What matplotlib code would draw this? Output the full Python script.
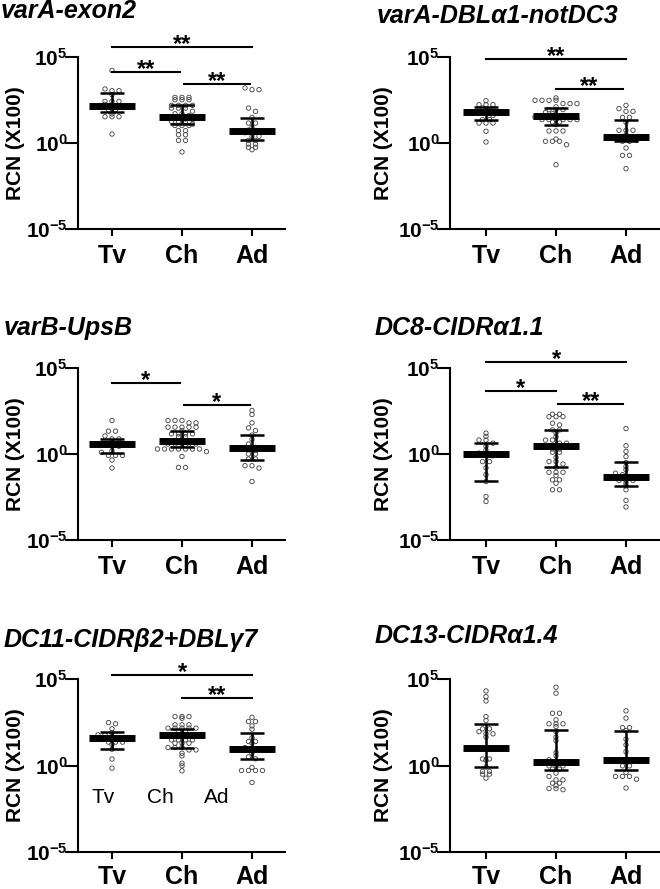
import matplotlib
matplotlib.use("Agg")
import matplotlib.pyplot as plt
import numpy as np
from matplotlib.ticker import FixedLocator, NullLocator

# ---------------- data (log10 of RCN x100) ----------------
groups = ["Tv", "Ch", "Ad"]
titles = [
    "varA-exon2",
    "varA-DBL\u03b11-notDC3",
    "varB-UpsB",
    "DC8-CIDR\u03b11.1",
    "DC11-CIDR\u03b22+DBL\u03b37",
    "DC13-CIDR\u03b11.4",
]

exon2_tv = [4.22, 3.14, 3.04, 3.04, 2.81, 2.42, 2.42, 2.42, 2.25, 2.17, 2.1, 1.94, 1.94, 1.69, 1.53, 1.53, 1.53, 0.52]
exon2_ch = [2.65, 2.65, 2.65, 2.52, 2.52, 2.52, 2.19, 2.19, 2.19, 2.19, 2.03, 2.03, 2.03, 1.85, 1.70, 1.70, 1.60,
            1.49, 1.49, 1.40, 1.35, 1.26, 1.26, 1.26, 1.10, 1.02, 1.02, 1.02, 0.72, 0.72, 0.48, 0.48, 0.15, 0.15, -0.52]
exon2_ad = [3.2, 3.1, 3.1, 2.03, 1.84, 1.49, 1.16, 1.16, 0.91, 0.75, 0.68, 0.60, 0.39, 0.39, 0.15, 0.15,
            -0.06, -0.06, -0.25, -0.25, -0.39]
exon2_med = [2.17, 1.49, 0.68]
exon2_q1 = [1.78, 1.10, 0.15]
exon2_q3 = [2.89, 2.19, 1.45]
exon2_sig = [(0, 2, 5.58, "**"), (0, 0.97, 4.13, "**"), (1.03, 1.97, 3.45, "**")]

dbla_tv = [2.46, 2.23, 2.23, 2.23, 2.03, 1.9, 1.78, 1.78, 1.6, 1.36, 1.36, 1.16, 1.16, 1.16, 0.68, 0.06]
dbla_ch = [2.62, 2.48, 2.48, 2.48, 2.48, 2.29, 2.29, 2.29, 2.1, 1.94, 1.94, 1.94, 1.78, 1.7, 1.59, 1.59, 1.5,
           1.36, 1.36, 1.36, 1.36, 1.36, 1.36, 1.22, 1.22, 1.07, 0.70, 0.70, 0.70, 0.23, 0.10, 0.10, 0.10, -0.10, -1.26]
dbla_ad = [2.19, 2.0, 1.84, 1.84, 1.49, 1.49, 1.2, 0.74, 0.74, 0.74, 0.48, 0.33, 0.29, 0.29, 0.15, 0.10, 0.10,
           -0.29, -0.72, -0.72, -1.49]
dbla_med = [1.78, 1.59, 0.33]
dbla_q1 = [1.32, 1.07, 0.12]
dbla_q3 = [2.07, 2.03, 1.31]
dbla_sig = [(0, 2, 4.88, "**"), (1, 1.95, 3.16, "**")]

upsb_tv = [1.95, 1.33, 1.33, 1.05, 0.88, 0.88, 0.7, 0.58, 0.58, 0.45, 0.19, 0.10, -0.08, -0.08, -0.08, -0.35, -0.82]
upsb_ch = [1.95, 1.95, 1.95, 1.81, 1.81, 1.56, 1.56, 1.56, 1.56, 1.56, 1.36, 1.17, 1.17, 1.17, 1.17, 1.01, 1.01,
           0.78, 0.78, 0.58, 0.58, 0.58, 0.58, 0.58, 0.29, 0.29, 0.29, 0.29, 0.29, 0.29, 0.29, 0.14, -0.14, -0.78, -0.78]
upsb_ad = [2.53, 2.30, 1.81, 1.52, 1.36, 1.1, 0.85, 0.58, 0.39, 0.35, 0.2, 0.0, 0.0, -0.29, -0.29, -0.68, -0.68,
           -0.82, -1.6]
upsb_med = [0.58, 0.78, 0.35]
upsb_q1 = [0.04, 0.39, -0.33]
upsb_q3 = [0.88, 1.36, 1.13]
upsb_sig = [(0, 0.97, 4.15, "*"), (1.03, 1.97, 2.83, "*")]

dc8_tv = [1.21, 1.02, 0.81, 0.81, 0.63, 0.45, 0.23, 0.05, 0.0, -0.1, -0.44, -0.44, -0.8, -1.2, -1.6, -2.47, -2.76]
dc8_ch = [2.31, 2.31, 2.17, 2.17, 2.17, 1.79, 1.69, 1.40, 1.40, 1.21, 1.0, 0.81, 0.81, 0.63, 0.63, 0.48, 0.48,
          0.29, 0.29, 0.10, 0.10, -0.2, -0.44, -0.44, -0.58, -0.77, -1.06, -1.06, -1.06, -1.25, -1.50, -1.50,
          -1.70, -2.08, -2.08]
dc8_ad = [1.48, 0.48, 0.15, -0.15, -0.5, -0.73, -0.91, -1.12, -1.2, -1.31, -1.31, -1.54, -1.54, -1.54, -1.7,
          -1.85, -2.08, -2.70, -3.08]
dc8_med = [0.0, 0.48, -1.31]
dc8_q1 = [-1.58, -0.77, -1.85]
dc8_q3 = [0.63, 1.39, -0.48]
dc8_sig = [(0, 2, 5.35, "*"), (0, 1, 3.66, "*"), (1.03, 1.96, 2.89, "**")]

dc11_tv = [2.48, 2.41, 2.12, 1.90, 1.77, 1.77, 1.65, 1.58, 1.58, 1.5, 1.35, 1.35, 1.35, 1.23, 0.94, 0.37, -0.15]
dc11_ch = [2.83, 2.83, 2.83, 2.73, 2.35, 2.35, 2.35, 2.16, 2.16, 2.16, 2.16, 2.16, 1.96, 1.96, 1.77, 1.67, 1.67,
           1.67, 1.48, 1.48, 1.48, 1.48, 1.29, 1.29, 1.29, 1.04, 1.04, 1.04, 0.90, 0.90, 0.71, 0.56, 0.13, -0.02, -0.31]
dc11_ad = [2.79, 2.54, 2.54, 2.29, 2.10, 1.6, 1.39, 1.39, 1.29, 1.04, 0.94, 0.94, 0.71, 0.5, 0.39, -0.11,
           -0.29, -0.29, -0.29, -0.29, -0.98]
dc11_med = [1.58, 1.77, 0.94]
dc11_q1 = [0.94, 1.04, 0.39]
dc11_q3 = [1.92, 2.12, 1.87]
dc11_sig = [(0, 2, 5.23, "*"), (1, 2, 3.89, "**")]
dc11_inner_x = [-0.13, 0.69, 1.5]   # stray group labels inside this panel
dc11_inner_y = -1.83

dc13_tv = [4.31, 3.98, 3.73, 2.83, 2.60, 2.12, 2.12, 1.96, 1.83, 1.83, 1.64, 1.04, 0.38, 0.38, 0.31, -0.09,
           -0.34, -0.34, -0.50, -0.50, -0.73]
dc13_ch = [4.52, 4.18, 3.02, 3.02, 2.64, 2.41, 2.41, 2.41, 2.25, 1.96, 1.64, 1.43, 0.75, 0.56, 0.33, 0.18, 0.18,
           -0.02, -0.02, -0.02, -0.21, -0.21, -0.44, -0.63, -0.83, -0.83, -1.02, -1.02, -1.17, -1.33, -1.33, -1.40]
dc13_ad = [3.16, 2.74, 2.19, 2.19, 2.02, 1.52, 1.19, 0.8, 0.29, 0.29, -0.02, -0.02, -0.40, -0.63, -0.63,
           -0.63, -0.79, -1.30]
dc13_med = [1.04, 0.18, 0.29]
dc13_q1 = [-0.09, -0.25, -0.25]
dc13_q3 = [2.41, 2.06, 2.02]
dc13_sig = []

ytick_vals = [1e-5, 1e0, 1e5]
ytick_labels = [r"$10^{-5}$", r"$10^{0}$", r"$10^{5}$"]

panels = [
    ([exon2_tv, exon2_ch, exon2_ad], exon2_med, exon2_q1, exon2_q3, exon2_sig),
    ([dbla_tv, dbla_ch, dbla_ad], dbla_med, dbla_q1, dbla_q3, dbla_sig),
    ([upsb_tv, upsb_ch, upsb_ad], upsb_med, upsb_q1, upsb_q3, upsb_sig),
    ([dc8_tv, dc8_ch, dc8_ad], dc8_med, dc8_q1, dc8_q3, dc8_sig),
    ([dc11_tv, dc11_ch, dc11_ad], dc11_med, dc11_q1, dc11_q3, dc11_sig),
    ([dc13_tv, dc13_ch, dc13_ad], dc13_med, dc13_q1, dc13_q3, dc13_sig),
]

# ---------------- style ----------------
plt.rcParams.update({
    "font.family": ["Liberation Sans", "DejaVu Sans"],
    "font.weight": "bold",
    "mathtext.fontset": "custom",
    "mathtext.rm": "Liberation Sans:bold",
    "mathtext.bf": "Liberation Sans:bold",
    "mathtext.it": "Liberation Sans:bold:italic",
    "axes.linewidth": 1.5,
})

W, H = 660, 889
fig = plt.figure(figsize=(W / 100, H / 100), dpi=100, facecolor="white")

# axes boxes in pixels
col_px = [(78, 285), (450, 659)]
row_px = [(57, 229), (368, 540), (679, 852)]
tv_px = [112, 486]            # pixel x of the Tv group per column
group_px = 70                 # pixel spacing between groups
title_pos = [(1, 18), (377, 23), (4, 335), (375, 335), (4, 647), (375, 643)]
xpad = [6, 6, 4.5]


def swarm(vals, binw=0.24, step=0.1):
    vals = np.asarray(vals)
    bins = np.round(vals / binw).astype(int)
    off = np.zeros(len(vals))
    for b in np.unique(bins):
        idx = np.where(bins == b)[0]
        n = len(idx)
        off[idx] = (np.arange(n) - (n - 1) / 2) * step
    return off


for k, (data, med, q1, q3, sig) in enumerate(panels):
    r, c = divmod(k, 2)
    x0, x1 = col_px[c]
    t, b = row_px[r]
    ax = fig.add_axes([x0 / W, 1 - b / H, (x1 - x0) / W, (b - t) / H])
    ax.set_yscale("log")

    for i, vals in enumerate(data):
        v = np.asarray(vals)
        ax.scatter(i + swarm(v), 10.0 ** v, s=10, facecolor="none",
                   edgecolor="#4a4a4a", linewidth=0.65, zorder=2)
        ax.vlines(i, 10.0 ** q1[i], 10.0 ** q3[i], color="black", lw=1.8, zorder=3)
        ax.hlines([10.0 ** q1[i], 10.0 ** q3[i]], i - 0.165, i + 0.165,
                  color="black", lw=1.8, zorder=3)
        ax.hlines(10.0 ** med[i], i - 0.33, i + 0.33, color="black", lw=5, zorder=4)

    for sx0, sx1, sy, s in sig:
        ax.plot([sx0, sx1], [10.0 ** sy] * 2, color="black", lw=1.5,
                clip_on=False, zorder=5)
        ax.annotate(s, xy=((sx0 + sx1) / 2, 10.0 ** sy), xytext=(0, -3),
                    textcoords="offset points", ha="center", va="baseline",
                    fontsize=17, fontweight="bold", annotation_clip=False)

    ax.set_ylim(1e-5, 1e5)
    ax.set_xlim((x0 - tv_px[c]) / group_px, (x1 - tv_px[c]) / group_px)
    ax.yaxis.set_major_locator(FixedLocator(ytick_vals))
    ax.yaxis.set_minor_locator(NullLocator())
    ax.set_yticklabels(ytick_labels)
    ax.set_xticks(range(len(groups)))
    ax.set_xticklabels(groups)
    ax.tick_params(axis="y", length=9.5, width=1.5, pad=-2, labelsize=15)
    ax.tick_params(axis="x", length=5, width=1.5, pad=xpad[r], labelsize=18)
    ax.spines["top"].set_visible(False)
    ax.spines["right"].set_visible(False)
    ax.set_ylabel("RCN (X100)", fontsize=15, fontweight="bold")
    ax.yaxis.set_label_coords(-0.256 if c == 0 else -0.273, 0.5)

    if k == 4:
        for gx, g in zip(dc11_inner_x, groups):
            ax.text(gx, 10.0 ** dc11_inner_y, g, ha="center", va="center",
                    fontsize=15, fontweight="normal")

    tx, ty = title_pos[k]
    fig.text(tx / W, 1 - ty / H, titles[k], ha="left", va="baseline",
             fontsize=18, fontweight="bold", fontstyle="italic")

fig.savefig("out.png", dpi=100, facecolor="white")
